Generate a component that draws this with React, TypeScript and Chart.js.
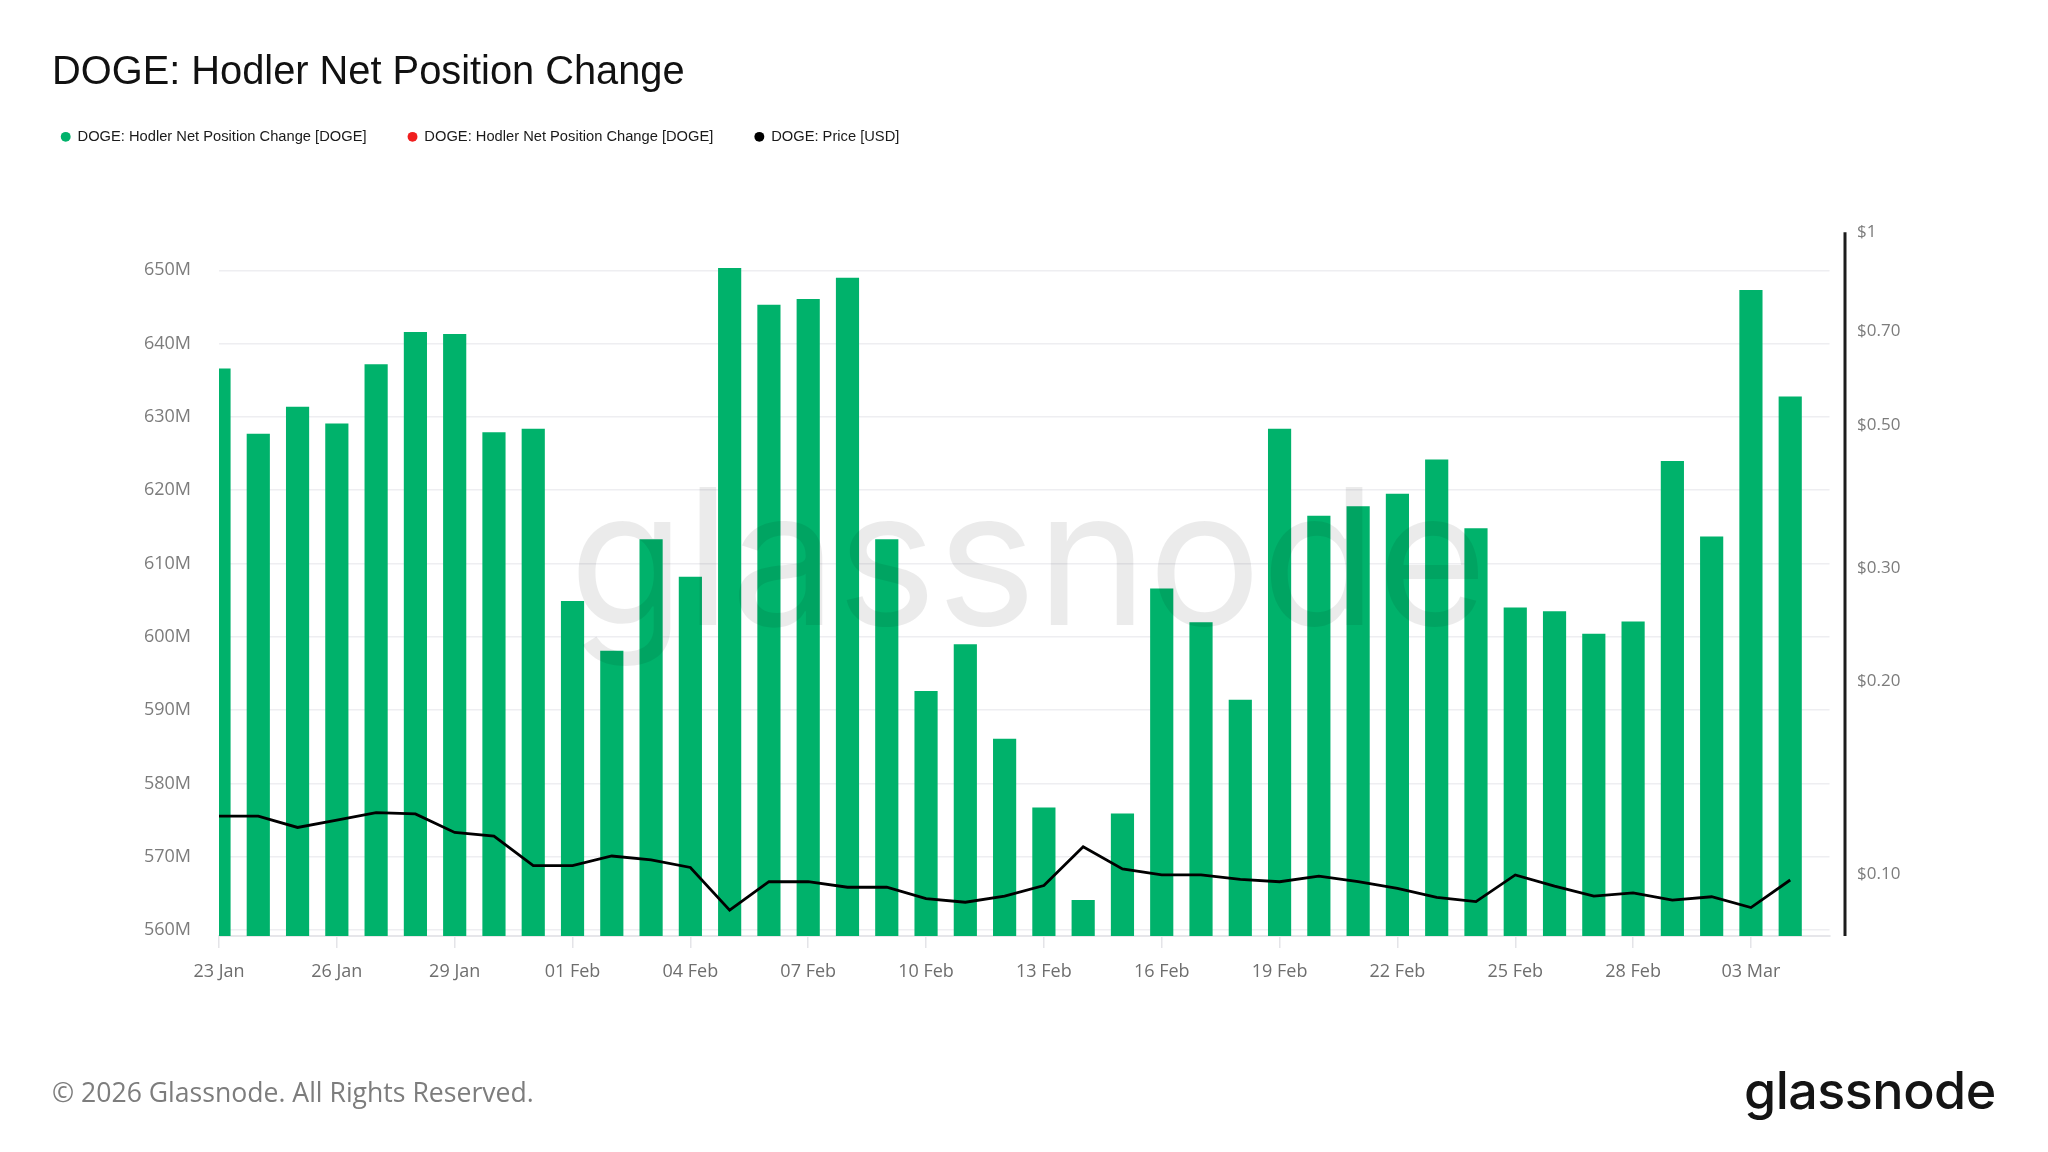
import React, { useEffect, useRef } from 'react';
import { Chart, registerables } from 'chart.js';

Chart.register(...registerables);

// Category axis: one label per day (last one is the axis end, no data)
const dates = [
  '23 Jan', '24 Jan', '25 Jan', '26 Jan', '27 Jan', '28 Jan', '29 Jan', '30 Jan', '31 Jan',
  '01 Feb', '02 Feb', '03 Feb', '04 Feb', '05 Feb', '06 Feb', '07 Feb', '08 Feb', '09 Feb',
  '10 Feb', '11 Feb', '12 Feb', '13 Feb', '14 Feb', '15 Feb', '16 Feb', '17 Feb', '18 Feb',
  '19 Feb', '20 Feb', '21 Feb', '22 Feb', '23 Feb', '24 Feb', '25 Feb', '26 Feb', '27 Feb',
  '28 Feb', '01 Mar', '02 Mar', '03 Mar', '04 Mar', '05 Mar',
];

// Hodler net position change, millions of DOGE (positive -> green)
const hodlerChangePositiveM = [
  636.6, 627.7, 631.4, 629.1, 637.2, 641.6, 641.3, 627.9, 628.4,
  604.9, 598.1, 613.3, 608.2, 650.3, 645.3, 646.1, 649.0, 613.3,
  592.6, 599.0, 586.1, 576.7, 564.1, 575.9, 606.6, 602.0, 591.4,
  628.4, 616.5, 617.8, 619.5, 624.2, 614.8, 604.0, 603.5, 600.4,
  602.1, 624.0, 613.7, 647.3, 632.8,
];

// Negative changes (red) – none in this window
const hodlerChangeNegativeM: number[] = [];

// DOGE price, USD
const priceUsd = [
  0.1230, 0.1230, 0.1181, 0.1213, 0.1246, 0.1240, 0.1160, 0.1145, 0.1030,
  0.1030, 0.1066, 0.1051, 0.1023, 0.0878, 0.0972, 0.0972, 0.0953, 0.0953,
  0.0915, 0.0903, 0.0923, 0.0959, 0.1102, 0.1018, 0.0996, 0.0996, 0.0980,
  0.0972, 0.0992, 0.0972, 0.0949, 0.0919, 0.0905, 0.0996, 0.0957, 0.0923,
  0.0934, 0.0910, 0.0921, 0.0886, 0.0978,
];

const leftTicksM = [560, 570, 580, 590, 600, 610, 620, 630, 640, 650];
const rightTicksUsd = [0.1, 0.2, 0.3, 0.5, 0.7, 1];

const GREEN = '#00B26B';
const RED = '#F01E1E';

const rightAxisLine = {
  id: 'rightAxisLine',
  afterDatasetsDraw(chart: any) {
    const { ctx, chartArea } = chart;
    ctx.save();
    ctx.strokeStyle = '#1c1c1c';
    ctx.lineWidth = 3;
    ctx.beginPath();
    const x = chartArea.right + 15.5;
    ctx.moveTo(x, chartArea.top);
    ctx.lineTo(x, chartArea.bottom);
    ctx.stroke();
    ctx.restore();
  },
};

export default function App() {
  const ref = useRef<HTMLCanvasElement>(null);

  useEffect(() => {
    const chart = new Chart(ref.current as HTMLCanvasElement, {
      type: 'bar',
      data: {
        labels: dates,
        datasets: [
          {
            type: 'bar',
            label: 'DOGE: Hodler Net Position Change [DOGE]',
            data: hodlerChangePositiveM,
            backgroundColor: GREEN,
            borderWidth: 0,
            grouped: false,
            barPercentage: 0.59,
            categoryPercentage: 1,
            yAxisID: 'y',
            clip: 0,
            order: 1,
          } as any,
          {
            type: 'bar',
            label: 'DOGE: Hodler Net Position Change [DOGE]',
            data: hodlerChangeNegativeM,
            backgroundColor: RED,
            borderWidth: 0,
            grouped: false,
            barPercentage: 0.59,
            categoryPercentage: 1,
            yAxisID: 'y',
            clip: 0,
            order: 1,
          } as any,
          {
            type: 'line',
            label: 'DOGE: Price [USD]',
            data: priceUsd,
            borderColor: '#000000',
            backgroundColor: '#000000',
            borderWidth: 2.8,
            pointRadius: 0,
            tension: 0,
            yAxisID: 'y1',
            clip: 0,
            order: -1,
          } as any,
        ],
      },
      options: {
        animation: false,
        responsive: false,
        devicePixelRatio: 1,
        events: [],
        layout: { padding: { left: 19.7, top: 88, right: 0, bottom: 156 } },
        plugins: {
          tooltip: { enabled: false },
          title: { display: false },
          subtitle: {
            display: true,
            text: ' ',
            position: 'top',
            weight: 500,
            font: { size: 10, lineHeight: 1 },
            padding: { top: 0, bottom: 68 },
          } as any,
          legend: {
            display: true,
            position: 'top',
            align: 'start',
            labels: {
              usePointStyle: true,
              pointStyle: 'circle',
              boxWidth: 9,
              boxHeight: 7,
              padding: 41.5,
              color: '#1a1a1a',
              font: { family: 'Liberation Sans, Arial, sans-serif', size: 14.7 },
              sort: (a: any, b: any) => a.datasetIndex - b.datasetIndex,
              generateLabels: (c: any) =>
                Chart.defaults.plugins.legend.labels
                  .generateLabels(c)
                  .map((l: any) => ({ ...l, lineWidth: 0, strokeStyle: 'rgba(0,0,0,0)' })),
            },
          },
        },
        scales: {
          x: {
            type: 'category',
            offset: false,
            grid: {
              display: true,
              drawOnChartArea: false,
              drawTicks: true,
              tickLength: 12,
              color: '#e4e4e8',
              lineWidth: 1.5,
              offset: false,
            },
            border: { display: true, color: '#e6e6ea', width: 2 },
            ticks: {
              autoSkip: false,
              maxRotation: 0,
              minRotation: 0,
              padding: 13.5,
              color: '#6e6e6e',
              font: { family: 'Open Sans, sans-serif', size: 18 },
            },
            afterBuildTicks: (scale: any) => {
              scale.ticks = scale.ticks.filter((_t: any, i: number) => i % 3 === 0);
            },
            afterFit: (scale: any) => {
              scale.height = 60;
            },
          },
          y: {
            type: 'linear',
            position: 'left',
            min: 559.18,
            max: 655.2,
            grid: {
              display: true,
              drawTicks: false,
              color: '#eeeef1',
              lineWidth: 1.5,
            },
            border: { display: false },
            ticks: {
              padding: 28,
              color: '#7c7c7c',
              font: { family: 'Open Sans, sans-serif', size: 18 },
              callback: (v: any) => `${v}M`,
            },
            afterBuildTicks: (scale: any) => {
              scale.ticks = leftTicksM.map((v) => ({ value: v }));
            },
            afterFit: (scale: any) => {
              scale.width = 199.3;
            },
          },
          y1: {
            type: 'logarithmic',
            position: 'right',
            min: 0.08,
            max: 1,
            grid: { display: false, drawTicks: false },
            border: { display: false },
            ticks: {
              padding: 27.5,
              color: '#7c7c7c',
              font: { family: 'Open Sans, sans-serif', size: 17 },
              callback: (v: any) => (Number(v) >= 1 ? `$${Number(v)}` : `$${Number(v).toFixed(2)}`),
            },
            afterBuildTicks: (scale: any) => {
              scale.ticks = rightTicksUsd.map((v) => ({ value: v }));
            },
            afterFit: (scale: any) => {
              scale.width = 218.5;
            },
          },
        },
      } as any,
      plugins: [rightAxisLine],
    });
    return () => chart.destroy();
  }, []);

  return (
    <div
      style={{
        position: 'absolute',
        left: 0,
        top: 0,
        width: 2048,
        height: 1152,
        background: '#ffffff',
        overflow: 'hidden',
      }}
    >
      <canvas
        ref={ref}
        width={2048}
        height={1152}
        style={{ position: 'absolute', left: 0, top: 0, width: 2048, height: 1152 }}
      />
      <div
        style={{
          position: 'absolute',
          left: 52,
          top: 50.5,
          fontFamily: 'Liberation Sans, Arial, sans-serif',
          fontSize: 39.8,
          lineHeight: '39.8px',
          color: '#111111',
          whiteSpace: 'nowrap',
        }}
      >
        DOGE: Hodler Net Position Change
      </div>
      <div
        style={{
          position: 'absolute',
          left: 569,
          top: 462,
          fontFamily: 'Inter, sans-serif',
          fontSize: 189,
          lineHeight: '189px',
          fontWeight: 400,
          color: 'rgba(0,0,0,0.08)',
          whiteSpace: 'nowrap',
          pointerEvents: 'none',
        }}
      >
        glassnode
      </div>
      <div
        style={{
          position: 'absolute',
          left: 52,
          top: 1078.5,
          fontFamily: 'Open Sans, sans-serif',
          fontSize: 26.6,
          lineHeight: '26.6px',
          color: '#7d7d7d',
          whiteSpace: 'nowrap',
        }}
      >
        © 2026 Glassnode. All Rights Reserved.
      </div>
      <div
        style={{
          position: 'absolute',
          left: 1744,
          top: 1065,
          fontFamily: 'Inter, sans-serif',
          fontSize: 52,
          lineHeight: '52px',
          fontWeight: 500,
          color: '#141414',
          whiteSpace: 'nowrap',
          letterSpacing: -0.5,
        }}
      >
        glassnode
      </div>
    </div>
  );
}
